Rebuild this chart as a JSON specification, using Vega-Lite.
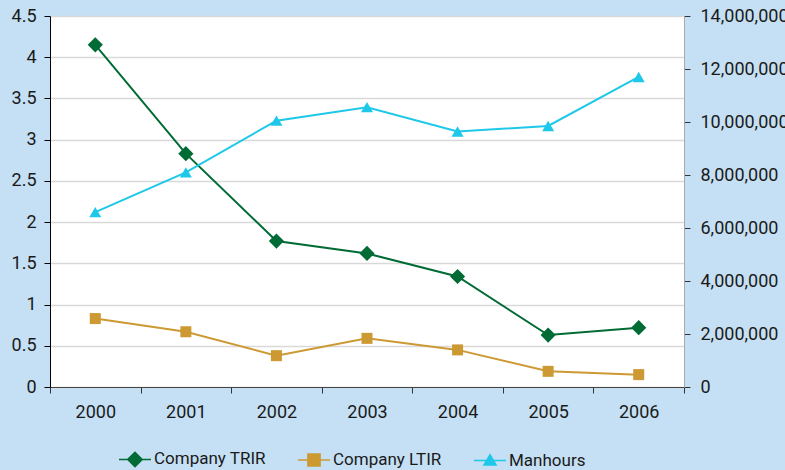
{
  "$schema": "https://vega.github.io/schema/vega-lite/v6.json",
  "width": 634,
  "height": 371,
  "autosize": {"type": "none"},
  "padding": {"left": 50, "top": 16, "right": 101, "bottom": 83},
  "background": "#c5e0f4",
  "config": {
    "view": {"fill": "white", "stroke": null},
    "font": "Roboto",
    "axis": {"labelFont": "Roboto", "labelFontSize": 18, "labelColor": "#1a1a1a", "title": null},
    "legend": {"symbolSize": 1024, "labelFontSize": 17, "labelOffset": 2, "columnPadding": 29}
  },
  "data": {
    "values": [
      {"year": "2000", "series": "Company TRIR", "value": 4.15},
      {"year": "2001", "series": "Company TRIR", "value": 2.83},
      {"year": "2002", "series": "Company TRIR", "value": 1.77},
      {"year": "2003", "series": "Company TRIR", "value": 1.62},
      {"year": "2004", "series": "Company TRIR", "value": 1.34},
      {"year": "2005", "series": "Company TRIR", "value": 0.63},
      {"year": "2006", "series": "Company TRIR", "value": 0.72},
      {"year": "2000", "series": "Company LTIR", "value": 0.83},
      {"year": "2001", "series": "Company LTIR", "value": 0.67},
      {"year": "2002", "series": "Company LTIR", "value": 0.38},
      {"year": "2003", "series": "Company LTIR", "value": 0.59},
      {"year": "2004", "series": "Company LTIR", "value": 0.45},
      {"year": "2005", "series": "Company LTIR", "value": 0.19},
      {"year": "2006", "series": "Company LTIR", "value": 0.15},
      {"year": "2000", "series": "Manhours", "value": 6600000},
      {"year": "2001", "series": "Manhours", "value": 8100000},
      {"year": "2002", "series": "Manhours", "value": 10050000},
      {"year": "2003", "series": "Manhours", "value": 10560000},
      {"year": "2004", "series": "Manhours", "value": 9640000},
      {"year": "2005", "series": "Manhours", "value": 9850000},
      {"year": "2006", "series": "Manhours", "value": 11700000}
    ]
  },
  "encoding": {
    "x": {
      "field": "year", "type": "ordinal",
      "scale": {"type": "band", "paddingInner": 0, "paddingOuter": 0},
      "axis": {"labelAngle": 0, "tickBand": "extent", "domainColor": "#444", "tickColor": "#333", "tickSize": 6, "labelPadding": 10, "grid": false}
    }
  },
  "layer": [
    {
      "transform": [{"filter": "datum.series !== 'Manhours'"}],
      "encoding": {
        "y": {
          "field": "value", "type": "quantitative",
          "scale": {"domain": [0, 4.5], "nice": false},
          "axis": {"values": [0, 0.5, 1, 1.5, 2, 2.5, 3, 3.5, 4, 4.5], "format": ".1~f", "grid": true, "gridColor": "#d9d9d9", "gridWidth": 1.5, "domainColor": "#000", "tickColor": "#000", "tickSize": 6, "labelPadding": 8}
        }
      },
      "layer": [
        {
          "mark": {"type": "line", "strokeWidth": 2},
          "encoding": {
            "color": {
              "field": "series", "type": "nominal",
              "scale": {"domain": ["Company TRIR", "Company LTIR", "Manhours"], "range": ["#006b35", "#cc9933", "#1ec8e8"]},
              "legend": {
                "orient": "none", "legendX": 68, "legendY": 426, "direction": "horizontal", "title": null,
                "labelFont": "Roboto", "labelFontSize": 17, "labelColor": "#1a1a1a", "labelOffset": 2,
                "columnPadding": 29, "symbolSize": 1024,
                "encode": {
                  "symbols": {
                    "update": {
                      "shape": {"signal": "datum.value === 'Company TRIR' ? 'M-1,0H1M-0.45,0L0,-0.45L0.45,0L0,0.45Z' : datum.value === 'Company LTIR' ? 'M-1,0H1M-0.38,-0.38H0.38V0.38H-0.38Z' : 'M-1,0H1M0,-0.36L0.38,0.28H-0.38Z'"},
                      "stroke": {"signal": "scale('color', datum.value)"},
                      "fill": {"signal": "scale('color', datum.value)"},
                      "strokeWidth": {"value": 1.5},
                      "size": {"value": 1024},
                      "opacity": {"value": 1}
                    }
                  }
                }
              }
            }
          }
        },
        {
          "transform": [{"filter": "datum.series === 'Company TRIR'"}],
          "mark": {"type": "point", "filled": true, "opacity": 1, "shape": "diamond", "size": 230},
          "encoding": {"color": {"field": "series", "type": "nominal", "legend": null}}
        },
        {
          "transform": [{"filter": "datum.series === 'Company LTIR'"}],
          "mark": {"type": "point", "filled": true, "opacity": 1, "shape": "square", "size": 121},
          "encoding": {"color": {"field": "series", "type": "nominal", "legend": null}}
        }
      ]
    },
    {
      "transform": [{"filter": "datum.series === 'Manhours'"}],
      "encoding": {
        "y": {
          "field": "value", "type": "quantitative",
          "scale": {"domain": [0, 14000000], "nice": false},
          "axis": {"orient": "right", "values": [0, 2000000, 4000000, 6000000, 8000000, 10000000, 12000000, 14000000], "format": ",.0f", "grid": false, "domainColor": "#aaa", "tickColor": "#333", "tickSize": 6, "labelPadding": 10}
        },
        "color": {"field": "series", "type": "nominal", "legend": null}
      },
      "layer": [
        {"mark": {"type": "line", "strokeWidth": 2}},
        {"mark": {"type": "point", "filled": true, "opacity": 1, "shape": "triangle-up", "size": 144}}
      ]
    }
  ],
  "resolve": {"scale": {"y": "independent"}}
}
